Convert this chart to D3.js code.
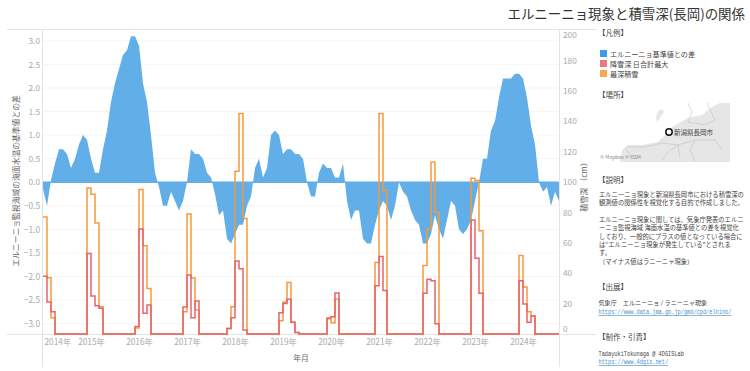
<!DOCTYPE html>
<html><head><meta charset="utf-8">
<script src="https://cdn.jsdelivr.net/npm/d3@7"></script>
<style>
html,body{margin:0;padding:0;background:#fff;overflow:hidden}
svg{display:block}
text{font-family:"Noto Sans CJK JP","Noto Sans",sans-serif}
.tick text{fill:#aaa;font-size:8.3px}
.lnk{fill:#4a90c8}
</style></head><body>
<svg id="c" width="750" height="371"></svg>
<script>
const title = "エルニーニョ現象と積雪深(長岡)の関係";
const yearLabels = [2014,2015,2016,2017,2018,2019,2020,2021,2022,2023,2024];
const anomalyTicks = [-3,-2.5,-2,-1.5,-1,-0.5,0,0.5,1,1.5,2,2.5,3];
const snowTicks = [0,20,40,60,80,100,120,140,160,180,200];
const anomaly = [-0.15,-0.5,0.05,0.4,0.7,0.7,0.6,0.3,0.5,0.8,1.0,0.9,
 0.5,0.2,0.2,0.7,1.1,1.7,2.1,2.4,2.7,2.8,3.1,3.1,
 2.9,2.1,1.7,1.0,0.2,-0.1,-0.5,-0.5,-0.2,-0.4,-0.6,-0.4,
 0.0,0.7,0.6,0.6,0.5,0.2,0.1,-0.25,-0.7,-0.6,-1.2,-1.3,
 -1.1,-0.9,-0.9,-0.5,-0.3,0.3,0.5,0.1,0.3,1.0,1.1,1.0,
 0.6,0.7,0.7,0.6,0.6,0.5,0.0,-0.3,-0.3,0.2,0.4,0.3,
 0.3,0.1,0.1,0.4,-0.4,-0.8,-0.6,-0.6,-1.2,-1.3,-1.3,-0.9,
 -0.6,-0.4,-0.5,-0.8,-0.5,0.0,-0.2,-0.3,-0.6,-0.8,-0.9,-1.3,
 -1.3,-1.1,-0.7,-1.0,-1.2,-0.8,-0.4,-0.5,-1.0,-1.1,-1.0,-0.8,
 -0.4,0.0,0.5,0.5,1.1,1.3,1.8,2.2,2.2,2.2,2.3,2.3,
 2.2,1.8,1.2,0.8,0.0,-0.2,-0.1,-0.5,-0.2,-0.4];
const snowfall = [38,21,14.7,0,0,0,0,0,0,0,0,53,
 25,18.6,17,0,0,0,0,0,0,0,0,5,
 69,13.6,19,0,0,0,0,0,0,0,0,17.8,
 38.8,10.7,21.7,0,0,0,0,0,0,0,3.7,10.7,
 48,43,2.6,0,0,0,0,0,0,0,0,14,
 20,22.8,7.7,1,0,0,0,0,0,0,0,10.5,
 11.4,27,0,0,0,0,0,0,0,0,0,31.8,
 51,28.7,0,0,0,0,0,0,0,0,0,26.8,
 36,35,6.8,0,0,0,0,0,0,0,0,75,
 49.8,26.8,0,0,0,0,0,0,0,0,0,35,
 19.7,7.7,11.8,0,0,0,0,0,0,0];
const snowDepth = [77,37,10.7,0,0,0,0,0,0,0,0,96,
 92,73,18,0,0,0,0,0,0,0,0,4,
 95,58,30,0,0,0,0,0,0,0,0,14.7,
 79,36.8,15.8,0,0,0,0,0,0,0,3.7,18,
 107,145,76,0,0,0,0,0,0,0,0,8.7,
 21,33.8,7.7,1,0,0,0,0,0,0,0,10,
 7.4,23,0,0,0,0,0,0,0,0,0,47,
 145,94.7,0,0,0,0,0,0,0,0,0,45,
 69,113,80,0,0,0,0,0,0,0,0,102.5,
 101,68,0,0,0,0,0,0,0,0,0,51.7,
 31,14.7,11.8,0,0,0,0,0,0,0];
const legendNames = ["エルニーニョ基準値との差","降雪深 日合計最大","最深積雪"];
const legendColors = ["#3d9ce8","#ec7780","#f8a650"];
const explainLines = [
 "エルニーニョ現象と新潟県長岡市における積雪深の",
 "観測値の関係性を視覚化する目的で作成しました。",
 "",
 "エルニーニョ現象に関しては、気象庁発表のエルニ",
 "ーニョ監視海域 海面水温の基準値との差を視覚化",
 "しており、一般的にプラスの値となっている場合に",
 "は\u201cエルニーニョ現象が発生している\u201dとされま",
 "す。",
 "（マイナス値はラニーニャ現象）"];

const svg = d3.select("#c");
const L=43,R=559,T=30,B=334;
const x = d3.scaleLinear().domain([0,anomaly.length-1]).range([L,R]);
const yA = d3.scaleLinear().domain([-3.22,3.23]).range([B,T]);
const yS = d3.scaleLinear().domain([0,200]).range([B,T]);
const line="#e4e4e4";

// frame
const frame = svg.append("g").attr("stroke",line).attr("stroke-width",1);
frame.append("line").attr("x1",7).attr("x2",596).attr("y1",T-0.5).attr("y2",T-0.5);
frame.append("line").attr("x1",7).attr("x2",596).attr("y1",B+0.5).attr("y2",B+0.5);
frame.append("line").attr("x1",L-0.5).attr("x2",L-0.5).attr("y1",T).attr("y2",367);
frame.append("line").attr("x1",R+0.5).attr("x2",R+0.5).attr("y1",T).attr("y2",367);

// grid
svg.append("g").selectAll("line").data(anomalyTicks).join("line")
 .attr("x1",L).attr("x2",R).attr("y1",d=>yA(d)).attr("y2",d=>yA(d))
 .attr("stroke","#f5f5f5").attr("stroke-width",1);

// area
const idx = d3.range(anomaly.length);
svg.append("path").datum(idx)
 .attr("d",d3.area().x(i=>x(i)).y0(yA(0)).y1(i=>yA(anomaly[i])))
 .attr("fill","#62aee9");
svg.append("line").attr("x1",L).attr("x2",R).attr("y1",yA(0)).attr("y2",yA(0)).attr("stroke","#62aee9").attr("stroke-width",1.5);

// step lines
const stepLine = arr => d3.line().curve(d3.curveStepAfter).x(i=>x(i)).y(i=>yS(arr[i]));
svg.append("path").datum(idx).attr("d",stepLine(snowDepth)).attr("fill","none").attr("stroke","#f59a3c").attr("stroke-width",1.5);
svg.append("path").datum(idx).attr("d",stepLine(snowfall)).attr("fill","none").attr("stroke","#e8636c").attr("stroke-width",1.5);

// axes
const ax = d3.axisLeft(yA).tickValues(anomalyTicks).tickSize(0).tickPadding(3).tickFormat(d3.format(".1f"));
const gl = svg.append("g").attr("transform",`translate(${L},0)`).call(ax); gl.select(".domain").remove();
const ar = d3.axisRight(yS).tickValues(snowTicks).tickSize(0).tickPadding(4);
const gr = svg.append("g").attr("transform",`translate(${R},0)`).call(ar); gr.select(".domain").remove();
gr.selectAll(".tick text").attr("dy",d=>d===0?"-0.3em":d===200?"0.95em":"0.32em");
const ab = d3.axisBottom(x)
 .tickValues(yearLabels.map(y=>(y-2014)*12)).tickSize(0).tickPadding(5).tickFormat((d,i)=>yearLabels[i]+"年");
const gb = svg.append("g").attr("transform",`translate(0,${B})`).call(ab); gb.select(".domain").remove();
gb.selectAll(".tick text").attr("text-anchor",d=>d===0?"start":"middle").attr("dx",d=>d===0?1:0);

const tc="#666";
svg.append("text").attr("x",301).attr("y",361).attr("text-anchor","middle").attr("font-size",7.8).attr("fill",tc).text("年月");
svg.append("text").attr("transform","translate(19,181) rotate(-90)").attr("text-anchor","middle").attr("font-size",7.8).attr("fill",tc).text("エルニーニョ監視海域の海面水温の基準値との差");
svg.append("text").attr("transform","translate(587,185) rotate(-90)").attr("text-anchor","middle").attr("font-size",8).attr("fill",tc).text("積雪深 （cm）");

// title
svg.append("text").attr("x",745).attr("y",19).attr("text-anchor","end").attr("font-size",13.45).attr("fill","#333").text(title);

// side panel
const side = svg.append("g").attr("fill","#444");
const head=(t,px,py)=>side.append("text").attr("x",px).attr("y",py).attr("font-size",7.5).text(t);
head("【凡例】",598,36);
head("【場所】",598,98);
head("【説明】",598,183);
head("【出展】",598,290);
head("【制作・引責】",598,340);
legendNames.forEach((n,i)=>{
 const yy=50+i*10;
 svg.append("rect").attr("x",600).attr("y",yy).attr("width",7).attr("height",7).attr("fill",legendColors[i]);
 side.append("text").attr("x",610).attr("y",yy+6.5).attr("font-size",7.1).text(n);
});
explainLines.forEach((t,i)=>side.append("text").attr("x",599).attr("y",197+i*8.35).attr("font-size",6.3).text(t));
side.append("text").attr("x",598.5).attr("y",305).attr("font-size",6.1).text("気象庁　エルニーニョ / ラニーニャ現象");
const mono="'Liberation Mono',monospace";
const monoText=(t,yy,cls)=>{const e=svg.append("text").attr("transform",`translate(598.5,${yy}) scale(0.84,1)`).attr("font-size",6.3).style("font-family",mono).text(t);
 if(cls){e.attr("class","lnk").attr("text-decoration","underline");}else{e.attr("fill","#444");}};
monoText("https://www.data.jma.go.jp/gmd/cpd/elnino/",314,true);
monoText("TadayukiTokunaga @ 4DGISLab",356,false);
monoText("https://www.4dgis.net/",364,true);

// map
const m = svg.append("g");
m.append("path").attr("d","M620,162L622,150L628,145L642,145L658,142L665,135L672,127L688,118L702,115L712,107L720,103L730,103L730,162Z").attr("fill","#e6e6e6");
m.append("path").attr("d","M658,111L662,109L664,112L660,118L657,122L656,118Z").attr("fill","#e6e6e6");
m.append("path").attr("d","M688,103L692,112L688,122L705,125L715,120L707,103M628,147L645,147L662,143L678,145L695,140L715,140L722,150M662,160L668,152L678,145L680,158M625,147L632,158M695,140L690,150L695,162")
 .attr("fill","none").attr("stroke","#bbb").attr("stroke-width",0.5);
m.append("circle").attr("cx",669).attr("cy",132).attr("r",3.2).attr("fill","#fff").attr("stroke","#111").attr("stroke-width",1.5);
m.append("text").attr("x",674).attr("y",134.5).attr("font-size",6.5).attr("fill","#444").text("新潟県長岡市");
m.append("text").attr("x",600).attr("y",159).attr("font-size",5).attr("fill","#888").text("© Mapbox © OSM");
</script>
</body></html>
